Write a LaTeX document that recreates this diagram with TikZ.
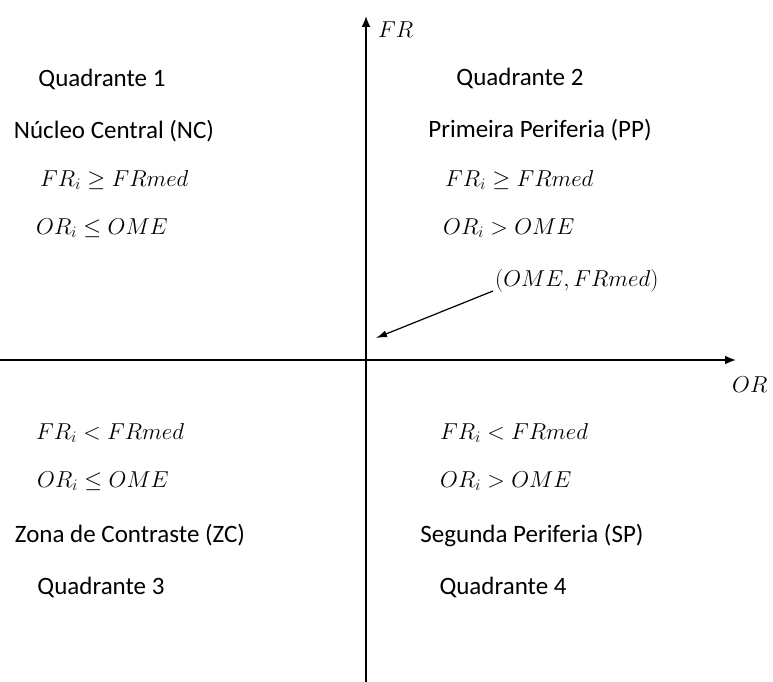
\RequirePackage{fix-cm}
\documentclass[tikz,border=0pt]{standalone}
\usepackage{fontspec}
\setmainfont{Carlito}
\usetikzlibrary{arrows.meta}
\tikzset{
  lbl/.style={inner sep=0pt, font=\fontsize{25}{30}\selectfont},
  mth/.style={inner sep=0pt, font=\fontsize{23}{28}\selectfont},
  axis/.style={line width=1.8pt, -{Latex[length=11pt,width=9pt]}},
  pointer/.style={line width=1.2pt, -{Latex[length=11pt,width=7pt]}}
}
\begin{document}
\begin{tikzpicture}[x=1pt,y=-1pt]
\useasboundingbox (0,0) rectangle (773,682);
% axes
\coordinate (ytop) at (366,16);
\coordinate (ybot) at (366,682);
\coordinate (xl) at (0,360);
\coordinate (xr) at (736,360);
\draw[axis] (ybot) -- (ytop);
\draw[axis] (xl) -- (xr);
\node[mth, anchor=west] (fr) at (378,30) {$FR$};
\node[mth, anchor=west] (or) at (732,385) {$OR$};
% quadrant 1
\node[lbl] (q1) at (102,79) {Quadrante 1};
\node[lbl] (nc) at (114,131) {Núcleo Central (NC)};
\node[mth, anchor=west] (q1a) at (40,180) {$FR_i \geq FRmed$};
\node[mth, anchor=west] (q1b) at (36,228) {$OR_i \leq OME$};
% quadrant 2
\node[lbl] (q2) at (520,78) {Quadrante 2};
\node[lbl] (pp) at (540,130) {Primeira Periferia (PP)};
\node[mth, anchor=west] (q2a) at (445,180) {$FR_i \geq FRmed$};
\node[mth, anchor=west] (q2b) at (443,228) {$OR_i > OME$};
\node[mth, anchor=west] (pt) at (495,281) {$(OME,FRmed)$};
\coordinate (ptfrom) at (493,291);
\coordinate (origin) at (376,338);
\draw[pointer] (ptfrom) -- (origin);
% quadrant 3
\node[mth, anchor=west] (q3a) at (36,433) {$FR_i < FRmed$};
\node[mth, anchor=west] (q3b) at (37,481) {$OR_i \leq OME$};
\node[lbl] (zc) at (130,535) {Zona de Contraste (ZC)};
\node[lbl] (q3) at (101,587) {Quadrante 3};
% quadrant 4
\node[mth, anchor=west] (q4a) at (440,433) {$FR_i < FRmed$};
\node[mth, anchor=west] (q4b) at (440,481) {$OR_i > OME$};
\node[lbl] (sp) at (532,535) {Segunda Periferia (SP)};
\node[lbl] (q4) at (503,587) {Quadrante 4};
\end{tikzpicture}
\end{document}
